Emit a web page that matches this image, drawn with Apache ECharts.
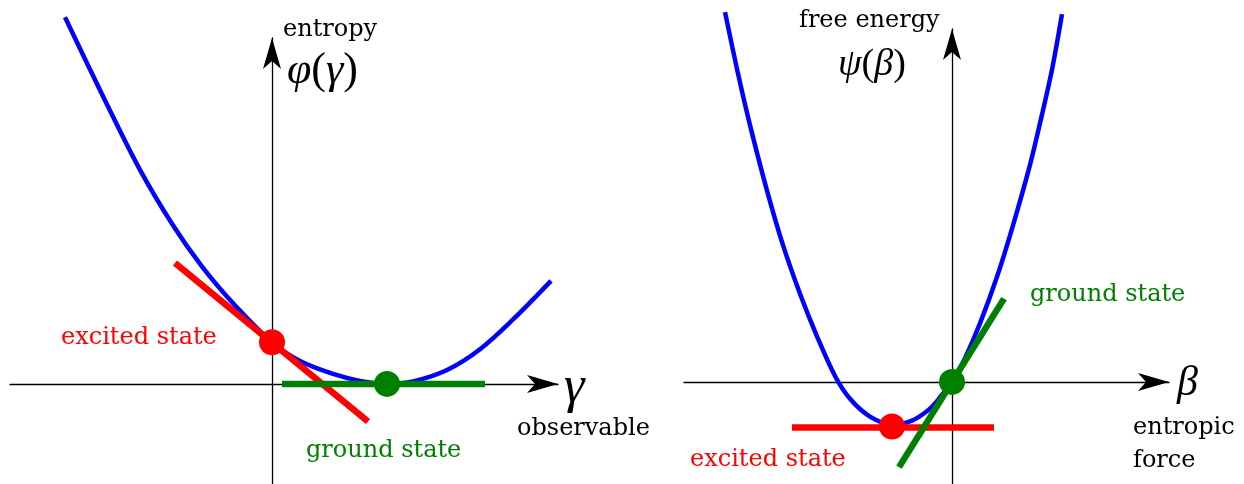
<!DOCTYPE html>
<html>
<head>
<meta charset="utf-8">
<script src="https://cdn.jsdelivr.net/npm/echarts@6/dist/echarts.min.js"></script>
<style>
  html, body { margin: 0; padding: 0; background: #fff; }
  #chart { width: 1244px; height: 484px; }
</style>
</head>
<body>
<div id="chart"></div>
<script>
// Left panel: entropy φ(γ) against the observable γ
const phiGamma = [
  [-2.07, 3.70], [-1.65, 2.82], [-1.32, 2.16], [-0.99, 1.60], [-0.72, 1.21],
  [-0.44, 0.87], [0.00, 0.42], [0.28, 0.23], [0.61, 0.10], [0.88, 0.03],
  [1.15, 0.00], [1.41, 0.025], [1.75, 0.14], [2.08, 0.35], [2.41, 0.65], [2.79, 1.04]
];
const excitedTangentL = [[-0.97, 1.22], [0.96, -0.38]];
const groundTangentL = [[0.10, 0.00], [2.13, 0.00]];
const excitedPointL = [0.00, 0.42];
const groundPointL = [1.15, 0.00];

// Right panel: free energy ψ(β) against the entropic force β
const psiBeta = [
  [-2.27, 3.73], [-2.14, 3.11], [-2.02, 2.59], [-1.85, 1.93], [-1.69, 1.38],
  [-1.52, 0.89], [-1.35, 0.46], [-1.17, 0.06], [-1.02, -0.17], [-0.82, -0.35],
  [-0.60, -0.43], [-0.40, -0.39], [-0.22, -0.27], [-0.10, -0.13], [0.00, 0.00],
  [0.13, 0.24], [0.28, 0.59], [0.45, 1.06], [0.61, 1.58], [0.78, 2.19],
  [0.88, 2.61], [1.00, 3.15], [1.10, 3.71]
];
const excitedTangentR = [[-1.60, -0.46], [0.42, -0.46]];
const groundTangentR = [[-0.53, -0.86], [0.52, 0.84]];
const excitedPointR = [-0.60, -0.45];
const groundPointR = [0.00, 0.00];

const BLUE = '#0000ff', RED = '#ff0000', GREEN = '#008000', BLACK = '#000000';
const ARROW = 'path://M0,0 L9,31 L0,23 L-9,31 Z';
const TEXT_FONT = '24px "DejaVu Serif", serif';
const MATH_FAMILY = '"Liberation Serif", "DejaVu Serif", serif';

function axisBase(min, max) {
  return {
    type: 'value', min: min, max: max,
    axisTick: { show: false }, axisLabel: { show: false }, splitLine: { show: false },
    axisLine: {
      show: true, onZero: true,
      symbol: ['none', ARROW], symbolSize: [18, 31], symbolOffset: [0, -15.5],
      lineStyle: { color: BLACK, width: 1.3 }
    }
  };
}

// Bezier arms of about a third of a segment give a Catmull-Rom-like curve
function curve(data, idx) {
  return {
    type: 'line', data: data, xAxisIndex: idx, yAxisIndex: idx,
    smooth: 0.33, showSymbol: false, clip: false,
    lineStyle: { color: BLUE, width: 4.5 }, z: 2, silent: true
  };
}
function segment(data, idx, color) {
  return {
    type: 'line', data: data, xAxisIndex: idx, yAxisIndex: idx,
    showSymbol: false, clip: false,
    lineStyle: { color: color, width: 6.5, cap: 'butt' }, z: 3, silent: true
  };
}
function dot(point, idx, color) {
  return {
    type: 'scatter', data: [point], xAxisIndex: idx, yAxisIndex: idx,
    symbol: 'circle', symbolSize: 26, clip: false,
    itemStyle: { color: color, opacity: 1 }, z: 4, silent: true
  };
}
function label(text, x, y, color) {
  return {
    type: 'text', x: x, y: y, silent: true,
    style: { text: text, font: TEXT_FONT, fill: color || BLACK, align: 'left', verticalAlign: 'middle' }
  };
}
function mathLabel(parts, x, y, size) {
  const txt = parts.map(p => '{' + p[0] + '|' + p[1] + '}').join('');
  return {
    type: 'text', x: x, y: y, silent: true,
    style: {
      text: txt, align: 'left', verticalAlign: 'middle', fill: BLACK,
      rich: {
        i: { fontFamily: MATH_FAMILY, fontStyle: 'italic', fontSize: size, fill: BLACK },
        r: { fontFamily: MATH_FAMILY, fontSize: size, fill: BLACK }
      }
    }
  };
}

const chart = echarts.init(document.getElementById('chart'), null, { renderer: 'canvas' });
chart.setOption({
  animation: false,
  backgroundColor: '#ffffff',
  grid: [
    { left: 10, top: 38, width: 548, height: 450 },
    { left: 684, top: 29, width: 485, height: 459 }
  ],
  xAxis: [
    Object.assign(axisBase(-2.62, 2.86), { gridIndex: 0 }),
    Object.assign(axisBase(-2.68, 2.17), { gridIndex: 1 })
  ],
  yAxis: [
    Object.assign(axisBase(-1.01, 3.49), { gridIndex: 0 }),
    Object.assign(axisBase(-1.03, 3.56), { gridIndex: 1 })
  ],
  series: [
    curve(phiGamma, 0),
    segment(excitedTangentL, 0, RED),
    segment(groundTangentL, 0, GREEN),
    dot(excitedPointL, 0, RED),
    dot(groundPointL, 0, GREEN),
    curve(psiBeta, 1),
    segment(excitedTangentR, 1, RED),
    segment(groundTangentR, 1, GREEN),
    dot(excitedPointR, 1, RED),
    dot(groundPointR, 1, GREEN)
  ],
  graphic: [
    label('entropy', 283, 30),
    mathLabel([['i', 'φ'], ['r', '('], ['i', 'γ'], ['r', ')']], 287, 71, 44),
    mathLabel([['i', 'γ']], 564, 388, 52),
    label('observable', 517, 429),
    label('excited state', 61, 338, RED),
    label('ground state', 306, 451, GREEN),
    label('free energy', 799, 21),
    mathLabel([['i', 'ψ'], ['r', '('], ['i', 'β'], ['r', ')']], 838, 65, 38),
    mathLabel([['i', 'β']], 1177, 384, 42),
    label('entropic', 1133, 428),
    label('force', 1133, 461),
    label('excited state', 690, 460, RED),
    label('ground state', 1030, 295, GREEN)
  ]
});
</script>
</body>
</html>
